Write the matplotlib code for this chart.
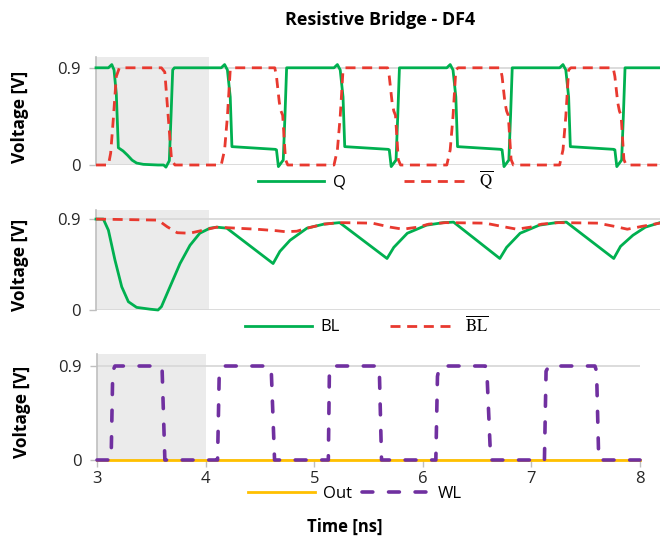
import matplotlib
matplotlib.use('Agg')
import matplotlib.pyplot as plt

plt.rcParams.update({
    'font.family': ['Open Sans', 'DejaVu Sans'],
    'font.size': 11,
    'mathtext.fontset': 'stix',
    'axes.spines.top': False, 'axes.spines.right': False,
})

# ── Data ─────────────────────────────────────────────────────
q_t = [3.00, 3.11, 3.14, 3.16, 3.18, 3.198, 3.24, 3.28, 3.32, 3.36, 3.42, 3.55, 3.60, 3.62, 3.65, 3.665, 3.68, 3.695,
       4.11, 4.14, 4.165, 4.19, 4.205, 4.59, 4.60, 4.617, 4.66, 4.675, 4.69,
       5.11, 5.14, 5.165, 5.19, 5.205, 5.59, 5.60, 5.617, 5.66, 5.675, 5.69,
       6.11, 6.14, 6.165, 6.19, 6.205, 6.59, 6.60, 6.617, 6.66, 6.675, 6.69,
       7.11, 7.14, 7.165, 7.19, 7.205, 7.59, 7.60, 7.617, 7.66, 7.675, 7.69, 8.00]
q_v = [0.90, 0.90, 0.93, 0.88, 0.66, 0.16, 0.13, 0.09, 0.045, 0.018, 0.006, 0.0, 0.0, -0.02, 0.04, 0.45, 0.88, 0.90,
       0.90, 0.93, 0.88, 0.63, 0.17, 0.145, 0.14, -0.015, 0.046, 0.45, 0.90,
       0.90, 0.93, 0.88, 0.63, 0.17, 0.145, 0.14, -0.015, 0.046, 0.45, 0.90,
       0.90, 0.93, 0.88, 0.63, 0.17, 0.145, 0.14, -0.015, 0.046, 0.45, 0.90,
       0.90, 0.93, 0.88, 0.63, 0.17, 0.145, 0.14, -0.015, 0.046, 0.45, 0.90, 0.90]

qb_t = [3.00, 3.11, 3.13, 3.153, 3.18, 3.207, 3.58, 3.61, 3.64, 3.67, 3.70,
        4.11, 4.14, 4.165, 4.19, 4.21, 4.585, 4.60, 4.625, 4.64, 4.655, 4.68, 4.70,
        5.11, 5.14, 5.165, 5.19, 5.21, 5.585, 5.60, 5.625, 5.64, 5.655, 5.68, 5.70,
        6.11, 6.14, 6.165, 6.19, 6.21, 6.585, 6.60, 6.625, 6.64, 6.655, 6.68, 6.70,
        7.11, 7.14, 7.165, 7.19, 7.21, 7.585, 7.60, 7.625, 7.64, 7.655, 7.68, 7.70, 8.00]
qb_v = [0.0, 0.0, 0.11, 0.42, 0.82, 0.90, 0.90, 0.86, 0.45, 0.046, 0.0,
        0.0, 0.14, 0.45, 0.88, 0.90, 0.90, 0.82, 0.58, 0.50, 0.46, 0.05, 0.0,
        0.0, 0.14, 0.45, 0.88, 0.90, 0.90, 0.82, 0.58, 0.50, 0.46, 0.05, 0.0,
        0.0, 0.14, 0.45, 0.88, 0.90, 0.90, 0.82, 0.58, 0.50, 0.46, 0.05, 0.0,
        0.0, 0.14, 0.45, 0.88, 0.90, 0.90, 0.82, 0.58, 0.50, 0.46, 0.05, 0.0, 0.0]

bl_t = [3.00, 3.065, 3.11, 3.168, 3.228, 3.287, 3.36, 3.48, 3.55, 3.58, 3.656, 3.745, 3.833, 3.92, 4.01, 4.07, 4.16,
        4.57, 4.63, 4.72, 4.87, 5.02, 5.16,
        5.58, 5.64, 5.76, 5.93, 6.08, 6.17,
        6.58, 6.64, 6.76, 6.93, 7.08, 7.17,
        7.59, 7.65, 7.76, 7.87, 8.00]
bl_v = [0.90, 0.90, 0.79, 0.495, 0.23, 0.082, 0.026, 0.008, 0.0, 0.033, 0.23, 0.46, 0.64, 0.76, 0.81, 0.82, 0.81,
        0.46, 0.58, 0.69, 0.81, 0.85, 0.865,
        0.51, 0.62, 0.76, 0.84, 0.865, 0.87,
        0.51, 0.62, 0.76, 0.84, 0.865, 0.87,
        0.51, 0.63, 0.74, 0.82, 0.865]

blb_t = [3.00, 3.55, 3.63, 3.72, 3.83, 3.95, 4.07, 4.16, 4.42, 4.60, 4.68, 4.78, 4.87, 5.02, 5.16,
         5.45, 5.61, 5.72, 5.85, 5.95, 6.10,
         6.45, 6.61, 6.73, 6.85, 6.95, 7.10,
         7.45, 7.61, 7.71, 7.85, 8.00]
blb_v = [0.90, 0.89, 0.825, 0.765, 0.76, 0.79, 0.82, 0.815, 0.80, 0.785, 0.775, 0.78, 0.81, 0.85, 0.865,
         0.86, 0.82, 0.80, 0.82, 0.85, 0.865,
         0.86, 0.825, 0.80, 0.82, 0.85, 0.865,
         0.86, 0.825, 0.80, 0.83, 0.86]

wl_t = [3.00, 3.13, 3.145, 3.165, 3.58, 3.60, 3.625,
        4.11, 4.125, 4.14, 4.165, 4.59, 4.605, 4.635,
        5.13, 5.14, 5.16, 5.59, 5.60, 5.62,
        6.12, 6.135, 6.15, 6.17, 6.575, 6.59, 6.625,
        7.12, 7.135, 7.16, 7.585, 7.60, 7.62, 8.00]
wl_v = [0.0, 0.0, 0.85, 0.90, 0.90, 0.85, 0.0,
        0.0, 0.80, 0.88, 0.90, 0.90, 0.85, 0.0,
        0.0, 0.85, 0.90, 0.90, 0.85, 0.0,
        0.0, 0.80, 0.88, 0.90, 0.90, 0.85, 0.0,
        0.0, 0.85, 0.90, 0.90, 0.85, 0.0, 0.0]

out_t = [3.0, 8.0]
out_v = [0.0, 0.0]

x_ticks = [3, 4, 5, 6, 7, 8]
y_ticks = [0, 0.9]
y_ticklabels = ['0', '0.9']

GREEN = '#00b050'
RED = '#e8392f'
PURPLE = '#7030a0'
GOLD = '#ffc000'

fig = plt.figure(figsize=(6.6, 5.39), dpi=100)
ax1 = fig.add_axes([96/660, 1-165/539, 564/660, 108/539])
ax2 = fig.add_axes([96/660, 1-310/539, 564/660, 100/539])
ax3 = fig.add_axes([97/660, 1-460/539, 543/660, 106/539])


def style(ax, top):
    ax.set_xlim(3, 8)
    ax.set_ylim(0, top)
    ax.axvspan(3, 4, color='#ebebeb', zorder=0, lw=0)
    ax.set_yticks(y_ticks)
    ax.set_yticklabels(y_ticklabels)
    ax.yaxis.grid(True, color='#d9d9d9', lw=1.3, zorder=1)
    ax.set_axisbelow(True)
    ax.spines['bottom'].set_visible(False)
    ax.spines['left'].set_color('#bfbfbf')
    ax.spines['left'].set_linewidth(1.2)
    ax.tick_params(axis='y', length=5, color='#bfbfbf', width=1, labelsize=12, pad=6,
                   labelcolor='#262626')
    ax.set_ylabel('Voltage [V]', fontweight='bold', fontsize=12.5)


style(ax1, 1.0)
style(ax2, 0.99)
style(ax3, 1.015)
for a in (ax1, ax2):
    a.set_xticks([])
ax1.yaxis.set_label_coords(-0.118, 0.45)
ax2.yaxis.set_label_coords(-0.118, 0.45)
ax3.yaxis.set_label_coords(-0.121, 0.45)

ax3.set_xticks(x_ticks)
ax3.tick_params(axis='x', length=5, color='#bfbfbf', width=1, labelsize=12, pad=3,
                labelcolor='#262626')

red_dash = (3.6, 2.4)

ax1.plot(q_t, q_v, color=GREEN, lw=2.0, clip_on=False, zorder=3, label='Q')
ax1.plot(qb_t, qb_v, color=RED, lw=2.0, dashes=red_dash, clip_on=False, zorder=4,
         label=r'$\overline{\mathrm{Q}}$')

ax2.plot(bl_t, bl_v, color=GREEN, lw=2.0, clip_on=False, zorder=3, label='BL')
ax2.plot(blb_t, blb_v, color=RED, lw=2.0, dashes=red_dash, clip_on=False, zorder=4,
         label=r'$\overline{\mathrm{BL}}$')

ax3.plot(out_t, out_v, color=GOLD, lw=2.0, clip_on=False, zorder=3, label='Out')
ax3.plot(wl_t, wl_v, color=PURPLE, lw=2.6, dashes=(3.0, 4.35), dash_capstyle='round',
         clip_on=False, zorder=4, label='WL')

leg_kw = dict(ncol=2, frameon=False, fontsize=12, handlelength=4.0, handletextpad=0.5,
              borderaxespad=0)
ax1.legend(loc='center', bbox_to_anchor=(0.495, -0.14), columnspacing=3.5, **leg_kw)
ax2.legend(loc='center', bbox_to_anchor=(0.48, -0.155), columnspacing=3.0, **leg_kw)
ax3.legend(loc='center', bbox_to_anchor=(0.475, -0.32), columnspacing=0.6, **leg_kw)

fig.text(380/660, 1-20/539, 'Resistive Bridge - DF4', ha='center', va='center',
         fontsize=13, fontweight='bold')
fig.text(345/660, 1-527/539, 'Time [ns]', ha='center', va='center',
         fontsize=12, fontweight='bold')

fig.savefig('out.png', dpi=100)
